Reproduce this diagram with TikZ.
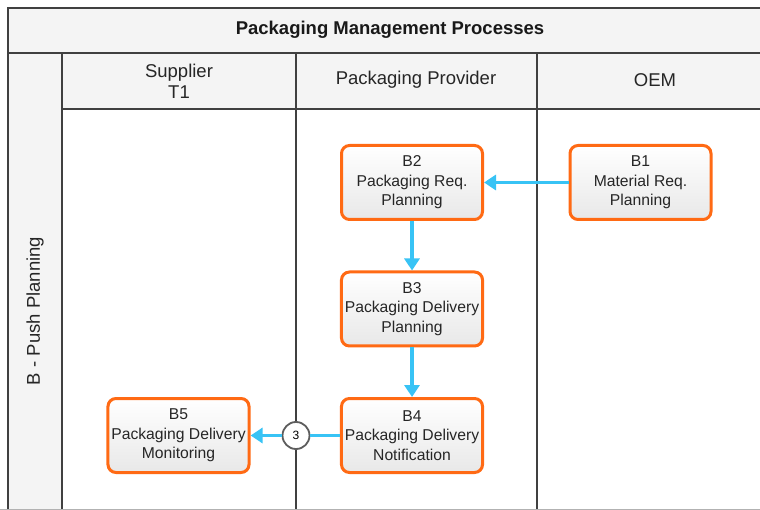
\documentclass[tikz,border=0pt]{standalone}
\usepackage{fontspec}
\setmainfont{Liberation Sans}
\usetikzlibrary{arrows.meta}

\definecolor{laneline}{HTML}{404040}
\definecolor{bandfill}{HTML}{F4F4F4}
\definecolor{procborder}{HTML}{FF6A14}
\definecolor{flowblue}{HTML}{38C3F5}

\tikzset{
  band/.style={fill=bandfill, draw=laneline, line width=2.4pt},
  headtext/.style={align=center, font=\fontsize{18.5}{21}\selectfont, text=black!85},
  proc/.style={rectangle, rounded corners=8pt, draw=procborder, line width=3pt,
    minimum width=141pt, minimum height=74pt, align=center,
    top color=white, bottom color=black!9, text=black!85,
    font=\fontsize{15.7}{19.5}\selectfont},
  flow/.style={draw=flowblue, line width=3.8pt,
    -{Triangle[length=12pt,width=15pt]}},
  flowline/.style={draw=flowblue, line width=3.8pt},
  refcircle/.style={circle, draw=laneline!85, line width=1.8pt, fill=white,
    minimum size=27pt, inner sep=0pt, font=\fontsize{12}{12}\selectfont}
}

\begin{document}
\begin{tikzpicture}[x=1pt,y=-1pt]
\useasboundingbox (0,0) rectangle (760,510);

% pool frame: title band, lane label column, swimlane headers
\path[band] (8,8) rectangle (775,53);
\path[band] (8,53) rectangle (62,520);
\path[band] (62,53) rectangle (296,109);
\path[band] (296,53) rectangle (537,109);
\path[band] (537,53) rectangle (775,109);
\draw[laneline, line width=2.4pt] (62,109) -- (62,520);
\draw[laneline, line width=2.4pt] (296,109) -- (296,520);
\draw[laneline, line width=2.4pt] (537,109) -- (537,520);
\draw[black!30, line width=1pt] (0,509) -- (760,509);

\node[font=\bfseries\fontsize{18.5}{21}\selectfont, text=black!90] (title) at (390,29.5) {Packaging Management Processes};
\node[headtext] (h1) at (179,81) {Supplier\\T1};
\node[headtext] (h2) at (416,80) {Packaging Provider};
\node[headtext] (h3) at (655,80) {OEM};
\node[headtext, rotate=90] (lane) at (35,311) {B - Push Planning};

% process steps
\node[proc] (b1) at (640.5,182.5) {B1\\Material Req.\\Planning};
\node[proc] (b2) at (412,182.5) {B2\\Packaging Req.\\Planning};
\node[proc] (b3) at (412,309) {B3\\Packaging Delivery\\Planning};
\node[proc] (b4) at (412,435.5) {B4\\Packaging Delivery\\Notification};
\node[proc] (b5) at (178.5,435.5) {B5\\Packaging Delivery\\Monitoring};

\node[refcircle] (c3) at (296,435.5) {3};

% flows
\draw[flow] (b1.west) -- (b2.east);
\draw[flow] (b2.south) -- (b3.north);
\draw[flow] (b3.south) -- (b4.north);
\draw[flowline] (b4.west) -- (c3.east);
\draw[flow] (c3.west) -- (b5.east);
\end{tikzpicture}
\end{document}
